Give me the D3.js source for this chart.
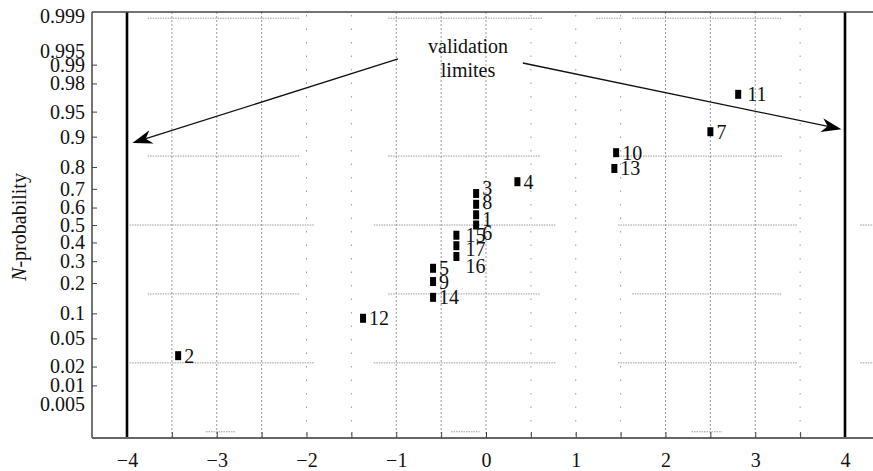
<!DOCTYPE html>
<html>
<head>
<meta charset="utf-8">
<script src="https://cdn.jsdelivr.net/npm/d3@7"></script>
<style>
  body { margin: 0; background: #fff; }
  text { font-family: "Liberation Serif", "DejaVu Serif", serif; }
</style>
</head>
<body>
<svg id="chart" width="873" height="471"></svg>
<script>
// data
var ids    = [1, 2, 3, 4, 5, 6, 7, 8, 9, 10, 11, 12, 13, 14, 15, 16, 17];
var xVals  = [-0.11, -3.43, -0.11, 0.35, -0.59, -0.11, 2.50, -0.11, -0.59, 1.45, 2.81, -1.37, 1.43, -0.59, -0.33, -0.33, -0.33];
var pVals  = [0.559, 0.029, 0.676, 0.735, 0.265, 0.500, 0.912, 0.618, 0.206, 0.853, 0.971, 0.088, 0.794, 0.147, 0.441, 0.324, 0.382];

var yTickVals = [0.999, 0.995, 0.99, 0.98, 0.95, 0.9, 0.8, 0.7, 0.6, 0.5, 0.4, 0.3, 0.2, 0.1, 0.05, 0.02, 0.01, 0.005];
var yNoTick   = [0.999, 0.995, 0.005];
var xLabelVals = [-4, -3, -2, -1, 0, 1, 2, 3, 4];
var xMinorVals = [-3.5, -3, -2.5, -2, -1.5, -1, -0.5, 0, 0.5, 1, 1.5, 2, 2.5, 3, 3.5];
var xDenseGrid = [-3.5, -3, -2.5, -1, -0.5, 0, 2, 2.5, 3];
var xSparseGrid = [-2, -1.5, 0.5, 1, 1.5, 3.5];
var limits = [-4, 4];

// broken horizontal grid: z level, then [from, to] pieces in x units
var gridZ    = [3, 1, 0, -1, -2, -3];
var gridSegs = [
  [[-3.77, -2.08], [-1.09, 0.63], [1.23, 1.52], [1.63, 3.30]],
  [[-3.77, -2.08], [-1.09, 0.60], [1.47, 3.30]],
  [[-3.97, -1.92], [-1.25, 0.78], [1.47, 3.47], [4.17, 4.40]],
  [[-3.77, -2.08], [-1.09, 0.60], [1.63, 3.30]],
  [[-3.97, -1.92], [-1.25, 0.78], [1.47, 3.47], [4.17, 4.40]],
  [[-3.12, -2.79], [-0.39, -0.07], [2.29, 2.63]]
];

// inverse normal cdf (Acklam)
function probit(p) {
  var a = [-39.69683028665376, 220.9460984245205, -275.9285104469687, 138.3577518672690, -30.66479806614716, 2.506628277459239];
  var b = [-54.47609879822406, 161.5858368580409, -155.6989798598866, 66.80131188771972, -13.28068155288572];
  var c = [-0.007784894002430293, -0.3223964580411365, -2.400758277161838, -2.549732539343734, 4.374664141464968, 2.938163982698783];
  var d = [0.007784695709041462, 0.3224671290700398, 2.445134137142996, 3.754408661907416];
  var q, r;
  if (p < 0.02425) {
    q = Math.sqrt(-2 * Math.log(p));
    return (((((c[0]*q+c[1])*q+c[2])*q+c[3])*q+c[4])*q+c[5]) / ((((d[0]*q+d[1])*q+d[2])*q+d[3])*q+1);
  }
  if (p > 1 - 0.02425) {
    q = Math.sqrt(-2 * Math.log(1 - p));
    return -(((((c[0]*q+c[1])*q+c[2])*q+c[3])*q+c[4])*q+c[5]) / ((((d[0]*q+d[1])*q+d[2])*q+d[3])*q+1);
  }
  q = p - 0.5; r = q * q;
  return (((((a[0]*r+a[1])*r+a[2])*r+a[3])*r+a[4])*r+a[5])*q / (((((b[0]*r+b[1])*r+b[2])*r+b[3])*r+b[4])*r+1);
}

var plotL = 92, plotR = 873, plotT = 12, plotB = 438;
var svg = d3.select("#chart");

var xScale = d3.scaleLinear().domain([-4, 4]).range([127, 845]);
var zScale = d3.scaleLinear().domain([-3.09, 3.09]).range([plotB, plotT]);
function yScale(p) { return zScale(probit(p)); }

// vertical grid
svg.selectAll(".vdense").data(xDenseGrid).enter().append("line")
   .attr("x1", function(d) { return xScale(d); })
   .attr("x2", function(d) { return xScale(d); })
   .attr("y1", plotT).attr("y2", plotB)
   .attr("stroke", "#999").attr("stroke-width", 1)
   .attr("stroke-dasharray", "2,2");
svg.selectAll(".vsparse").data(xSparseGrid).enter().append("line")
   .attr("x1", function(d) { return xScale(d); })
   .attr("x2", function(d) { return xScale(d); })
   .attr("y1", plotT + 3).attr("y2", plotB)
   .attr("stroke", "#999").attr("stroke-width", 1)
   .attr("stroke-dasharray", "1.5,12");

// horizontal grid pieces
gridZ.forEach(function(z, i) {
  svg.selectAll(".h" + i).data(gridSegs[i]).enter().append("line")
     .attr("x1", function(d) { return Math.max(plotL, xScale(d[0])); })
     .attr("x2", function(d) { return Math.min(plotR, xScale(d[1])); })
     .attr("y1", zScale(z)).attr("y2", zScale(z))
     .attr("stroke", "#999").attr("stroke-width", 1)
     .attr("stroke-dasharray", "1.5,1");
});

// validation limits
svg.selectAll(".limit").data(limits).enter().append("line")
   .attr("x1", function(d) { return xScale(d); })
   .attr("x2", function(d) { return xScale(d); })
   .attr("y1", plotT).attr("y2", plotB)
   .attr("stroke", "#000").attr("stroke-width", 2.6);

// frame
svg.append("line").attr("x1", plotL).attr("x2", plotR).attr("y1", plotT).attr("y2", plotT)
   .attr("stroke", "#444").attr("stroke-width", 1.5);
svg.append("line").attr("x1", plotL).attr("x2", plotL).attr("y1", plotT).attr("y2", plotB)
   .attr("stroke", "#444").attr("stroke-width", 1.5);
svg.append("line").attr("x1", plotL).attr("x2", plotR).attr("y1", plotB).attr("y2", plotB)
   .attr("stroke", "#666").attr("stroke-width", 2);

// y axis (probability scale)
var yAxis = d3.axisLeft(zScale)
              .tickValues(yTickVals.map(probit))
              .tickFormat(function(d, i) { return yTickVals[i]; })
              .tickSizeInner(-5).tickSizeOuter(0).tickPadding(7);
var gy = svg.append("g").attr("transform", "translate(" + plotL + ",0)").call(yAxis);
gy.select(".domain").remove();
gy.selectAll(".tick line").attr("stroke", "#444")
  .filter(function(d, i) { return yNoTick.indexOf(yTickVals[i]) >= 0; }).remove();
gy.selectAll(".tick text")
  .attr("font-size", "20px").attr("fill", "#111")
  .attr("font-family", "Liberation Serif, serif")
  .attr("y", function(d, i) {
    var v = yTickVals[i];
    return v === 0.999 ? 4 : v === 0.995 ? 4 : v === 0.005 ? 2 : 0;
  });

// x axis: minor ticks inside, labels at integers
var gxm = svg.append("g").attr("transform", "translate(0," + plotB + ")")
   .call(d3.axisBottom(xScale).tickValues(xMinorVals).tickSizeInner(-6).tickSizeOuter(0).tickFormat(""));
gxm.select(".domain").remove();
gxm.selectAll(".tick line").attr("stroke", "#444");
var gx = svg.append("g").attr("transform", "translate(0," + plotB + ")")
   .call(d3.axisBottom(xScale).tickValues(xLabelVals).tickSize(0).tickPadding(15)
   .tickFormat(function(d) { return d < 0 ? "\u2212" + (-d) : d; }));
gx.select(".domain").remove();
gx.selectAll(".tick text").attr("font-size", "20px").attr("fill", "#111")
  .attr("font-family", "Liberation Serif, serif");

// y axis title
var yt = svg.append("text")
   .attr("transform", "translate(26," + 227 + ") rotate(-90)")
   .attr("text-anchor", "middle").attr("font-size", "20px").attr("fill", "#111");
yt.append("tspan").attr("font-style", "italic").text("N");
yt.append("tspan").text("-probability");

// points
var pts = ids.map(function(id, i) { return { id: id, x: xVals[i], p: pVals[i] }; });
svg.selectAll(".pt").data(pts).enter().append("rect")
   .attr("x", function(d) { return xScale(d.x) - 3; })
   .attr("y", function(d) { return yScale(d.p) - 4.5; })
   .attr("width", 6).attr("height", 9)
   .attr("fill", "#000");

// label nudges where they crowd
var nudgeY = { 3: -6, 8: -2, 1: 4, 6: 8, 17: 3, 16: 10 };
var nudgeX = { 15: 3, 16: 3, 17: 3, 11: 3 };
svg.selectAll(".lbl").data(pts).enter().append("text")
   .attr("x", function(d) { return xScale(d.x) + 6 + (nudgeX[d.id] || 0); })
   .attr("y", function(d) { return yScale(d.p) + (nudgeY[d.id] || 0); })
   .attr("dy", "0.35em")
   .attr("font-size", "20px").attr("fill", "#111")
   .text(function(d) { return d.id; });

// annotation
svg.append("text").attr("x", xScale(-0.2)).attr("y", 53)
   .attr("text-anchor", "middle").attr("font-size", "20px").attr("fill", "#111")
   .text("validation");
svg.append("text").attr("x", xScale(-0.2)).attr("y", 77)
   .attr("text-anchor", "middle").attr("font-size", "20px").attr("fill", "#111")
   .text("limites");

var arrows = [
  { from: [-0.98, 2.41], to: [-3.94, 1.19] },
  { from: [0.41, 2.35], to: [3.96, 1.39] }
];
arrows.forEach(function(a) {
  var x1 = xScale(a.from[0]), y1 = zScale(a.from[1]);
  var x2 = xScale(a.to[0]), y2 = zScale(a.to[1]);
  var ang = Math.atan2(y2 - y1, x2 - x1) * 180 / Math.PI;
  svg.append("line").attr("x1", x1).attr("y1", y1)
     .attr("x2", x2 - 10 * Math.cos(ang * Math.PI / 180))
     .attr("y2", y2 - 10 * Math.sin(ang * Math.PI / 180))
     .attr("stroke", "#111").attr("stroke-width", 1.3);
  svg.append("path")
     .attr("d", "M0,0 L-20,-7 L-14,0 L-20,7 Z")
     .attr("transform", "translate(" + x2 + "," + y2 + ") rotate(" + ang + ")")
     .attr("fill", "#000");
});
</script>
</body>
</html>
